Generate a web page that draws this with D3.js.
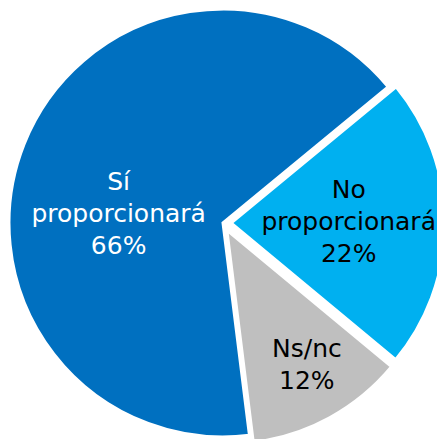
<!DOCTYPE html>
<html lang="es">
<head>
<meta charset="UTF-8">
<title>Pie</title>
<script src="https://cdn.jsdelivr.net/npm/d3@7"></script>
<style>
  html, body { margin: 0; padding: 0; background: #fff; }
  svg { display: block; }
</style>
<script>
// datos del gráfico
var categories = ["Sí proporcionará", "No proporcionará", "Ns/nc"];
var labelLines = [["Sí", "proporcionará", "66%"], ["No", "proporcionará", "22%"], ["Ns/nc", "12%"]];
var values = [66, 22, 12];
var colors = ["#0070C0", "#00B0F0", "#BFBFBF"];
var textColors = ["#ffffff", "#000000", "#000000"];
var exploded = [0, 8, 8];          // separacion de cada porcion
var labelRadius = [0.55, 0.55, 0.73]; // radio relativo de la etiqueta
var labelNudge = [[5, 35], [0, -1], [5, -2]];

window.onload = function () {
    var width = 437, height = 439;
    var cx = 223, cy = 223, r = 214;
    var svg = d3.select("#chart").attr("width", width).attr("height", height);
    var g = svg.append("g").attr("transform", "translate(" + cx + "," + cy + ")");

    var start = 172.9 * Math.PI / 180;
    var pie = d3.pie().sort(null).value(function (d) { return d; })
        .startAngle(start).endAngle(start + 2 * Math.PI);
    var arcs = pie(values);

    var arc = d3.arc().innerRadius(0).outerRadius(r);

    var slices = g.selectAll(".slice")
        .data(arcs)
        .enter()
        .append("g")
        .attr("transform", function (d, i) {
            var a = (d.startAngle + d.endAngle) / 2;
            var p = d3.pointRadial(a, exploded[i]);
            return "translate(" + p[0] + "," + p[1] + ")";
        });

    slices.append("path")
        .attr("d", arc)
        .attr("fill", function (d, i) { return colors[i]; })
        .attr("stroke", "#fff")
        .attr("stroke-width", 3)
        .attr("stroke-linejoin", "miter");

    var lineH = 32;
    slices.each(function (d, i) {
        var a = (d.startAngle + d.endAngle) / 2;
        var p = d3.pointRadial(a, r * labelRadius[i]);
        var lines = labelLines[i];
        var t = d3.select(this).append("text")
            .attr("text-anchor", "middle")
            .attr("font-family", "'DejaVu Sans', sans-serif")
            .attr("font-size", 25)
            .attr("fill", textColors[i]);
        var y0 = p[1] + labelNudge[i][1] - (lines.length - 1) * lineH / 2 + 8;
        lines.forEach(function (s, k) {
            t.append("tspan")
                .attr("x", p[0] + labelNudge[i][0])
                .attr("y", y0 + k * lineH)
                .text(s);
        });
    });
};
</script>
</head>
<body>
<svg id="chart"></svg>
</body>
</html>
